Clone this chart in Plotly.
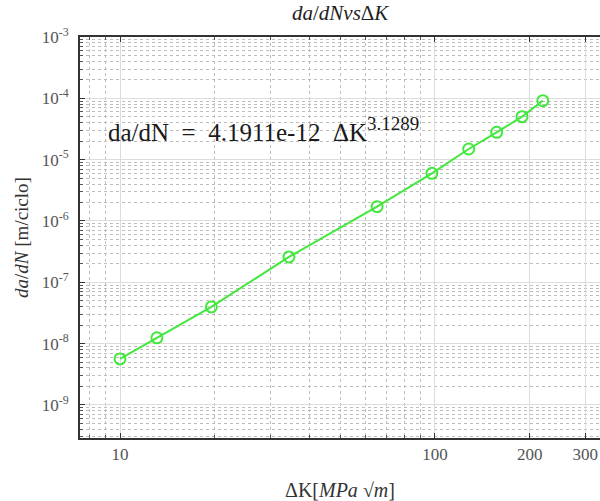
import plotly.graph_objects as go

# Crack growth rate measurements
delta_k = [10.0, 13.1, 19.5, 34.4, 65.5, 97.8, 128, 157, 189, 220]
dadn = [5.62e-9, 1.24e-8, 3.96e-8, 2.59e-7, 1.71e-6, 5.98e-6,
        1.49e-5, 2.79e-5, 5.02e-5, 9.16e-5]

# Paris law fit parameters
paris_c = "4.1911e-12"
paris_m = "3.1289"

x_tick_vals = [10, 100, 200, 300]
x_tick_text = ["10", "100", "200", "300"]
y_exponents = [-9, -8, -7, -6, -5, -4, -3]

SERIF = "Liberation Serif, Times New Roman, serif"
GREEN = "#42e83c"

x_minor = [m * 10 ** e for e in range(0, 3) for m in range(2, 10)]
y_minor = [m * 10.0 ** e for e in range(-10, -3) for m in range(2, 10)]

fig = go.Figure()
fig.add_trace(go.Scatter(
    x=delta_k, y=dadn, mode="lines+markers",
    line=dict(color=GREEN, width=2),
    marker=dict(symbol="circle-open", size=11, color=GREEN, line=dict(width=2, color=GREEN)),
    showlegend=False,
))

fig.add_annotation(
    xref="paper", yref="paper", x=0.05, y=0.77, xanchor="left", yanchor="middle",
    text=f"da/dN\u00a0\u00a0=\u00a0\u00a0{paris_c}\u00a0\u00a0ΔK<sup><span style='font-size:19px'>{paris_m}</span></sup>",
    showarrow=False, font=dict(family=SERIF, size=25, color="#1a1a1a"),
)

axis_common = dict(
    showline=True, linecolor="#333", linewidth=1.8,
    ticks="inside", ticklen=5, tickcolor="#333", tickwidth=1,
    showgrid=True, gridcolor="#dcdcdc", gridwidth=1,
    tickfont=dict(family=SERIF, size=17, color="#555"),
    zeroline=False,
)

fig.update_xaxes(
    type="log", range=[0.873, 2.524],
    tickvals=x_tick_vals, ticktext=x_tick_text,
    mirror="allticks",
    minor=dict(tickvals=x_minor, ticks="inside", ticklen=3, tickcolor="#555",
               showgrid=True, gridcolor="#bdbdbd", griddash="dot", gridwidth=1),
    title=dict(text="ΔK[<i>MPa</i>\u00a0√<i>m</i>]", font=dict(family=SERIF, size=20, color="#333"), standoff=20),
    **axis_common,
)

fig.update_yaxes(
    type="log", range=[-9.54, -3],
    tickvals=[10.0 ** e for e in y_exponents],
    ticktext=[f"10<sup>{e}</sup>" for e in y_exponents],
    mirror=False,
    ticklabelstandoff=6,
    minor=dict(tickvals=y_minor, ticks="inside", ticklen=3, tickcolor="#555",
               showgrid=True, gridcolor="#bdbdbd", griddash="dot", gridwidth=1),
    title=dict(text="<i>da</i>/<i>dN</i> [m/ciclo]", font=dict(family=SERIF, size=19, color="#333"), standoff=8),
    **axis_common,
)

fig.update_layout(
    width=600, height=501,
    margin=dict(l=80, r=0, t=37, b=63),
    paper_bgcolor="white", plot_bgcolor="white",
    title=dict(text="<i>da</i>/<i>dNvs</i>Δ<i>K</i>", x=0.567, xanchor="center", y=0.975, yanchor="middle",
               font=dict(family=SERIF, size=21, color="#222")),
)

fig.write_html("out.html")
